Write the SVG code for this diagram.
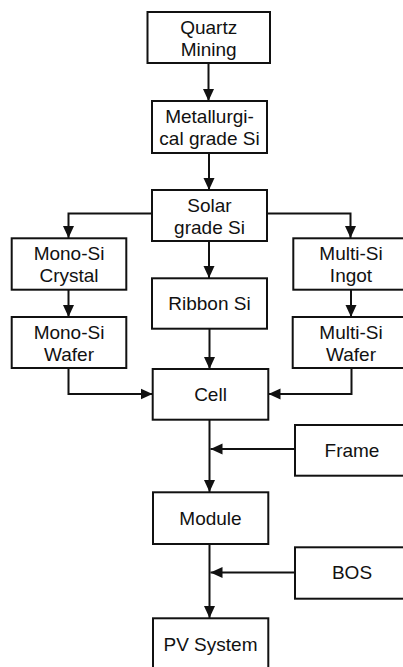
<svg xmlns="http://www.w3.org/2000/svg" width="403" height="667" viewBox="0 0 403 667">
<style>
.box{fill:#fff;stroke:#111;stroke-width:2}
.t{font-family:"Liberation Sans",Arial,sans-serif;font-size:19px;fill:#111;text-anchor:middle}
.c{fill:none;stroke:#111;stroke-width:2;marker-end:url(#ah)}
</style>
<defs>
<marker id="ah" markerUnits="userSpaceOnUse" markerWidth="13" markerHeight="13" viewBox="0 0 13 13" refX="12" refY="6.5" orient="auto">
<path d="M0,1 L12,6.5 L0,12 Z" fill="#111"/>
</marker>
</defs>
<rect width="403" height="667" fill="#fff"/>
<g id="connectors">
<path class="c" d="M208.5,63 V101"/>
<path class="c" d="M209,153 V190"/>
<path class="c" d="M152,213.5 H68.5 V238"/>
<path class="c" d="M267,213.5 H350.5 V238"/>
<path class="c" d="M209,241 V278"/>
<path class="c" d="M68.5,290 V317"/>
<path class="c" d="M351,290 V317"/>
<path class="c" d="M209.5,329 V369"/>
<path class="c" d="M68.5,368 V394 H152.5"/>
<path class="c" d="M351.5,368 V394 H268.5"/>
<path class="c" d="M209.5,420 V492"/>
<path class="c" d="M295,449 H210.5"/>
<path class="c" d="M209.5,544 V618"/>
<path class="c" d="M295,572.5 H210.5"/>
</g>
<g id="quartz"><rect class="box" x="147.5" y="12" width="122.5" height="51"/><text class="t" x="208.7" y="33.5">Quartz</text><text class="t" x="208.7" y="55.5">Mining</text></g>
<g id="metallurgical"><rect class="box" x="152" y="101" width="115" height="52"/><text class="t" x="209.5" y="122.5">Metallurgi-</text><text class="t" x="209.5" y="144.5">cal grade Si</text></g>
<g id="solar"><rect class="box" x="152" y="190" width="115" height="51"/><text class="t" x="209.5" y="211.5">Solar</text><text class="t" x="209.5" y="233.5">grade Si</text></g>
<g id="monocrystal"><rect class="box" x="11.7" y="238.3" width="114.6" height="51.4"/><text class="t" x="69" y="259.8">Mono-Si</text><text class="t" x="69" y="281.8">Crystal</text></g>
<g id="monowafer"><rect class="box" x="11.7" y="317" width="114.6" height="51"/><text class="t" x="69" y="338.5">Mono-Si</text><text class="t" x="69" y="360.5">Wafer</text></g>
<g id="ribbon"><rect class="box" x="152" y="278.3" width="115" height="50.4"/><text class="t" x="209.5" y="310">Ribbon Si</text></g>
<g id="multiingot"><rect class="box" x="293.3" y="238.3" width="116" height="51.4"/><text class="t" x="351" y="259.8">Multi-Si</text><text class="t" x="351" y="281.8">Ingot</text></g>
<g id="multiwafer"><rect class="box" x="292.7" y="317" width="116" height="51"/><text class="t" x="351" y="338.5">Multi-Si</text><text class="t" x="351" y="360.5">Wafer</text></g>
<g id="cell"><rect class="box" x="152.7" y="369" width="115.6" height="50.7"/><text class="t" x="210.5" y="401">Cell</text></g>
<g id="frame"><rect class="box" x="295" y="425" width="116" height="50.7"/><text class="t" x="352" y="457">Frame</text></g>
<g id="module"><rect class="box" x="153" y="492.3" width="115.3" height="51.7"/><text class="t" x="210.5" y="525">Module</text></g>
<g id="bos"><rect class="box" x="295" y="547.3" width="116" height="51.4"/><text class="t" x="352" y="579">BOS</text></g>
<g id="pv"><rect class="box" x="153" y="618.3" width="115.3" height="55"/><text class="t" x="210.5" y="651">PV System</text></g>
</svg>
